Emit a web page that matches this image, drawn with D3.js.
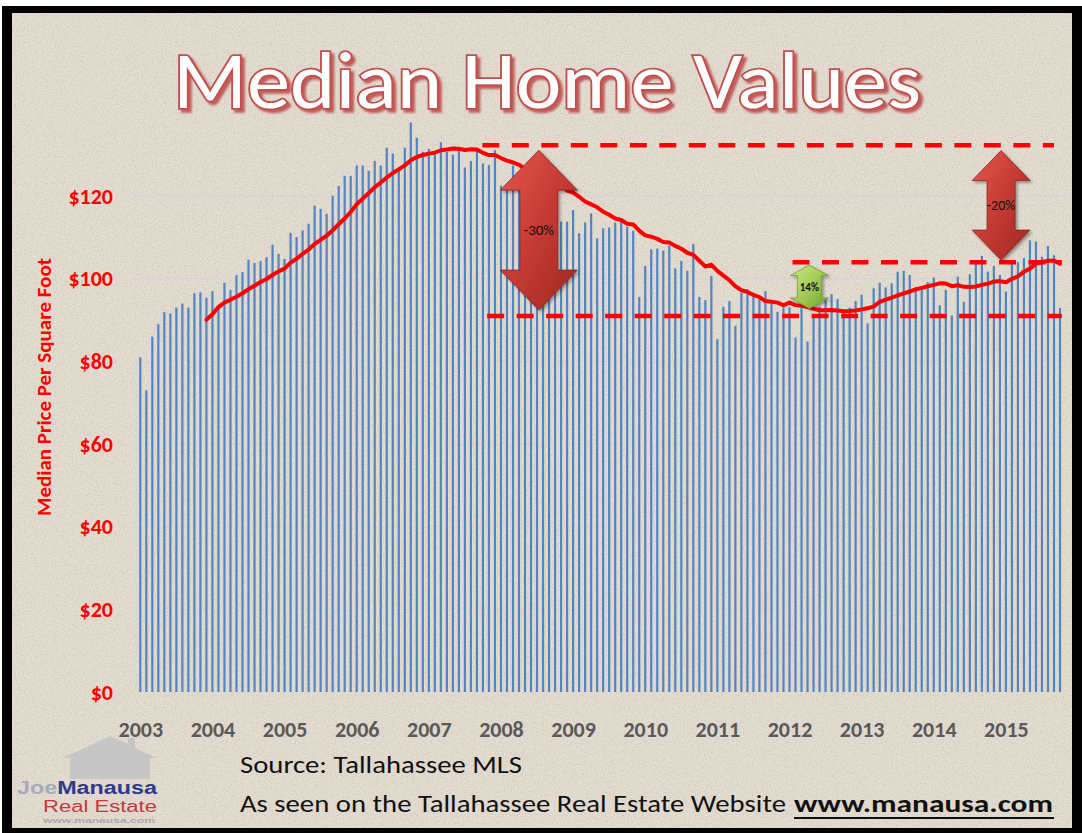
<!DOCTYPE html>
<html>
<head>
<meta charset="utf-8">
<script src="https://d3js.org/d3.v7.min.js"></script>
<style>
  html, body { margin: 0; padding: 0; background: #fff; }
  svg { display: block; }
</style>
</head>
<body>
<svg id="chart" width="1082" height="833"></svg>
<script>
// monthly median price per square foot, Jan 2003 .. Oct 2015 (Tallahassee MLS)
const startYear = 2003
const medianPpsf = [
  81, 73, 86, 89, 91.9, 91.6, 93, 94, 93, 96.5, 96.7, 95.4,                 // 2003
  97, 93.5, 99, 97.3, 100.9, 101.6, 104.6, 103.8, 104.3, 105.2, 108.2, 106,  // 2004
  104.8, 111.1, 110.1, 111.7, 113.3, 117.7, 116.9, 115.7, 120.1, 122.5, 124.9, 124.9, // 2005
  127.4, 127.4, 126.1, 128.5, 127.4, 131.7, 130.3, 126.1, 131.7, 137.8, 134.1, 130.7, // 2006
  131.4, 130.3, 133, 130.7, 130, 131.1, 126.9, 128.5, 130.9, 127.9, 127.5, 131.1,   // 2007
  122.5, 123, 127.4, 124, 118.5, 125, 121, 124.5, 119, 123.4, 113.8, 113.8,         // 2008
  116.6, 111, 113.6, 115.8, 109.8, 112.2, 112.4, 113.6, 114.6, 112.6, 111.6, 95.6,  // 2009
  103.1, 107.1, 107.3, 106.8, 108, 102.5, 104.3, 101.9, 108.4, 95.6, 94.8, 100.7,   // 2010
  85.4, 93.2, 94.6, 88.6, 96.6, 97.5, 95.9, 95.1, 97, 94, 92, 93.1,                 // 2011
  93.1, 85.8, 93.1, 84.8, 91.5, 93.2, 95.4, 96.3, 95.1, 92, 93, 94.6,               // 2012
  96.1, 89.2, 97.7, 99, 97.9, 98.9, 101.7, 101.9, 100.9, 98, 97.5, 99.2,            // 2013
  100.3, 93.6, 97.3, 91.1, 100.5, 94.4, 101.1, 103.6, 105.5, 101.7, 103.1, 100.9,   // 2014
  96.9, 103.7, 104, 105, 109.3, 109, 105.3, 107.9, 105.7, 92.9                      // 2015
]
const yearLabels = [2003, 2004, 2005, 2006, 2007, 2008, 2009, 2010, 2011, 2012, 2013, 2014, 2015]
const yTicks = [0, 20, 40, 60, 80, 100, 120]
const maPeriod = 12   // excel "12 per. mov. avg." trendline

// hand drawn annotations (in data units: month index / dollars)
const refLevels = [132.3, 104, 91]
const refFrom = [56.9, 108.5, 57.7]
const refTo = [152, 153.3, 153.3]
const changeLabels = ["-30%", "14%", "-20%"]
const changeMonth = [66.3, 111.3, 143.2]
const changeHigh = [131.1, 103.3, 131.0]
const changeLow = [92.4, 92.8, 104.5]

const svg = d3.select("#chart")
const W = 1082, H = 833

// ---- frame + background ----
const defs = svg.append("defs")
const noise = defs.append("filter").attr("id", "speckle").attr("x", 0).attr("y", 0).attr("width", "100%").attr("height", "100%")
noise.append("feTurbulence").attr("type", "fractalNoise").attr("baseFrequency", 0.9).attr("numOctaves", 2).attr("seed", 4)
noise.append("feColorMatrix").attr("type", "matrix")
  .attr("values", "0 0 0 0 0.35  0 0 0 0 0.32  0 0 0 0 0.28  0 0 0 -2.2 1.25")

const shadow = defs.append("filter").attr("id", "drop").attr("x", "-30%").attr("y", "-30%").attr("width", "160%").attr("height", "160%")
shadow.append("feDropShadow").attr("dx", 2).attr("dy", 2).attr("stdDeviation", 1.5).attr("flood-color", "#000").attr("flood-opacity", 0.35)

const titleShadow = defs.append("filter").attr("id", "titleShadow").attr("x", "-5%").attr("y", "-20%").attr("width", "110%").attr("height", "140%")
titleShadow.append("feDropShadow").attr("dx", 3).attr("dy", 3).attr("stdDeviation", 0.8).attr("flood-color", "#b9403c").attr("flood-opacity", 0.8)

function vGrad(id, c0, c1, c2) {
  const g = defs.append("linearGradient").attr("id", id).attr("x1", 0).attr("y1", 0).attr("x2", 1).attr("y2", 1)
  g.append("stop").attr("offset", "0%").attr("stop-color", c0)
  g.append("stop").attr("offset", "50%").attr("stop-color", c1)
  g.append("stop").attr("offset", "100%").attr("stop-color", c2)
}
vGrad("redArrow", "#e4574e", "#c53a33", "#9e2621")
vGrad("greenArrow", "#cfe88a", "#a3cc55", "#76a332")

svg.append("rect").attr("x", 2).attr("y", 6).attr("width", W - 2).attr("height", H - 6).attr("fill", "#000")
svg.append("rect").attr("x", 12).attr("y", 13).attr("width", 1060).attr("height", 815).attr("fill", "#e5ddd1")
svg.append("rect").attr("x", 12).attr("y", 13).attr("width", 1060).attr("height", 815)
  .attr("filter", "url(#speckle)").attr("opacity", 0.35)

// ---- scales ----
const months = medianPpsf.map((d, i) => i)
const x = d3.scalePoint().domain(months).range([140.3, 1060])
const y = d3.scaleLinear().domain([0, 140]).range([692, 113.4])

const g = svg.append("g")

// faint gridlines
g.selectAll(".grid")
  .data(yTicks.slice(1))
  .enter()
  .append("line")
  .attr("class", "grid")
  .attr("x1", 134).attr("x2", 1066)
  .attr("y1", d => y(d)).attr("y2", d => y(d))
  .attr("stroke", "#c9d3dc").attr("stroke-width", 1).attr("opacity", 0.7)

// bars
g.selectAll(".bar")
  .data(medianPpsf)
  .enter()
  .append("rect")
  .attr("class", "bar")
  .attr("x", (d, i) => x(i) - 1.1)
  .attr("width", 2.2)
  .attr("y", d => y(d))
  .attr("height", d => y(0) - y(d))
  .attr("fill", "#5185c4")

// y axis
const yAxis = g.append("g")
  .attr("transform", "translate(118,0)")
  .call(d3.axisLeft(y).tickValues(yTicks).tickFormat(d => "$" + d).tickSize(0).tickPadding(5))
yAxis.select(".domain").remove()
yAxis.selectAll("text")
  .attr("fill", "#ff0000")
  .attr("font-family", "Calibri, Carlito, Lato, sans-serif")
  .attr("font-weight", "bold")
  .attr("font-size", "22px")

// x axis (year labels on each January)
const xAxis = g.append("g")
  .attr("transform", "translate(0,692)")
  .call(d3.axisBottom(x)
    .tickValues(yearLabels.map(yr => (yr - startYear) * 12))
    .tickFormat(i => startYear + i / 12)
    .tickSize(0).tickPadding(29))
xAxis.select(".domain").remove()
xAxis.selectAll("text")
  .attr("fill", "#595959")
  .attr("font-family", "Calibri, Carlito, Lato, sans-serif")
  .attr("font-weight", "bold")
  .attr("font-size", "22px")

// axis title
svg.append("text")
  .attr("transform", "translate(51,387) rotate(-90)")
  .attr("text-anchor", "middle")
  .attr("fill", "#ff0000")
  .attr("font-family", "Calibri, Carlito, Lato, sans-serif")
  .attr("font-weight", "bold")
  .attr("font-size", "21px")
  .text("Median Price Per Square Foot")

// 12 month moving average
const movingAvg = medianPpsf.map((d, i) => i < maPeriod - 1 ? null : d3.mean(medianPpsf.slice(i - maPeriod + 1, i + 1)))
g.append("path")
  .datum(movingAvg)
  .attr("fill", "none")
  .attr("stroke", "#ff0000")
  .attr("stroke-width", 4)
  .attr("stroke-linejoin", "round")
  .attr("stroke-linecap", "round")
  .attr("d", d3.line().defined(d => d != null).x((d, i) => x(i)).y(d => y(d)))

// dashed reference levels
const lin = d3.scaleLinear().domain([0, medianPpsf.length - 1]).range(x.range())
g.selectAll(".ref")
  .data(refLevels)
  .enter()
  .append("line")
  .attr("class", "ref")
  .attr("x1", (d, i) => lin(refFrom[i]))
  .attr("x2", (d, i) => lin(refTo[i]))
  .attr("y1", d => y(d)).attr("y2", d => y(d))
  .attr("stroke", "#ff0000")
  .attr("stroke-width", 4.5)
  .attr("stroke-dasharray", "17 12.5")

// double headed arrows
function doubleArrow(cx, yt, yb, headW, headH, shaftW) {
  const hw = headW / 2, sw = shaftW / 2
  return "M" + cx + "," + yt +
    "L" + (cx + hw) + "," + (yt + headH) +
    "L" + (cx + sw) + "," + (yt + headH) +
    "L" + (cx + sw) + "," + (yb - headH) +
    "L" + (cx + hw) + "," + (yb - headH) +
    "L" + cx + "," + yb +
    "L" + (cx - hw) + "," + (yb - headH) +
    "L" + (cx - sw) + "," + (yb - headH) +
    "L" + (cx - sw) + "," + (yt + headH) +
    "L" + (cx - hw) + "," + (yt + headH) + "Z"
}
const arrowSize = [[77, 40, 38], [38, 10.5, 24], [58, 30, 28]]
const arrowFill = ["url(#redArrow)", "url(#greenArrow)", "url(#redArrow)"]
const arrowFont = [15, 11, 14]

changeLabels.forEach(function (lab, i) {
  const cx = lin(changeMonth[i]), yt = y(changeHigh[i]), yb = y(changeLow[i])
  const s = arrowSize[i]
  g.append("path")
    .attr("d", doubleArrow(cx, yt, yb, s[0], s[1], s[2]))
    .attr("fill", arrowFill[i])
    .attr("stroke", i === 1 ? "#6f9a2e" : "#8e231e")
    .attr("stroke-width", 0.8)
    .attr("filter", "url(#drop)")
  g.append("text")
    .attr("x", cx).attr("y", (yt + yb) / 2)
    .attr("dy", "0.35em")
    .attr("text-anchor", "middle")
    .attr("font-family", "Calibri, Carlito, Lato, sans-serif")
    .attr("font-size", arrowFont[i] + "px")
    .attr("font-weight", i === 1 ? "bold" : "normal")
    .attr("fill", "#111")
    .text(lab)
})

// ---- title ----
svg.append("text")
  .attr("x", 547).attr("y", 108)
  .attr("text-anchor", "middle")
  .attr("font-family", "Calibri, Carlito, Lato, sans-serif")
  .attr("font-size", "80px")
  .attr("textLength", 748).attr("lengthAdjust", "spacingAndGlyphs")
  .attr("fill", "#fff").attr("stroke", "#c0504d").attr("stroke-width", 3.5)
  .attr("paint-order", "stroke")
  .attr("filter", "url(#titleShadow)")
  .text("Median Home Values")

// ---- footer ----
const footFont = "Calibri, Carlito, Lato, sans-serif"
svg.append("text")
  .attr("x", 240).attr("y", 773)
  .attr("font-family", footFont).attr("font-size", "24px").attr("fill", "#111")
  .attr("textLength", 282).attr("lengthAdjust", "spacingAndGlyphs")
  .text("Source: Tallahassee MLS")
svg.append("text")
  .attr("x", 240).attr("y", 812)
  .attr("font-family", footFont).attr("font-size", "24px").attr("fill", "#111")
  .attr("textLength", 546).attr("lengthAdjust", "spacingAndGlyphs")
  .text("As seen on the Tallahassee Real Estate Website")
svg.append("text")
  .attr("x", 794).attr("y", 812)
  .attr("font-family", footFont).attr("font-size", "24px").attr("font-weight", "bold").attr("fill", "#111")
  .attr("textLength", 259).attr("lengthAdjust", "spacingAndGlyphs")
  .text("www.manausa.com")
svg.append("line")
  .attr("x1", 794).attr("x2", 1054).attr("y1", 818).attr("y2", 818)
  .attr("stroke", "#111").attr("stroke-width", 2)

// logo
const logo = svg.append("g")
logo.append("path")
  .attr("d", "M63,758 L110,736 L128,744 L128,738 L135,738 L135,748 L157,758 L150,758 L150,779 L70,779 L70,758 Z")
  .attr("fill", "#c6c6c6")
const logoTxt = logo.append("text")
  .attr("x", 17).attr("y", 794)
  .attr("font-family", "Liberation Sans, Arial, sans-serif").attr("font-weight", "bold").attr("font-size", "18px")
  .attr("textLength", 140).attr("lengthAdjust", "spacingAndGlyphs")
logoTxt.append("tspan").attr("fill", "#a9abbb").text("Joe")
logoTxt.append("tspan").attr("fill", "#2e3b8c").text("Manausa")
logo.append("text")
  .attr("x", 43).attr("y", 812)
  .attr("font-family", "Liberation Sans, Arial, sans-serif").attr("font-size", "16px").attr("fill", "#c23a3f")
  .attr("textLength", 114).attr("lengthAdjust", "spacingAndGlyphs")
  .text("Real Estate")
logo.append("text")
  .attr("x", 43).attr("y", 823)
  .attr("font-family", "Liberation Sans, Arial, sans-serif").attr("font-weight", "bold").attr("font-size", "8px").attr("fill", "#a9a9ae")
  .attr("textLength", 112).attr("lengthAdjust", "spacingAndGlyphs")
  .text("www.manausa.com")
</script>
</body>
</html>
